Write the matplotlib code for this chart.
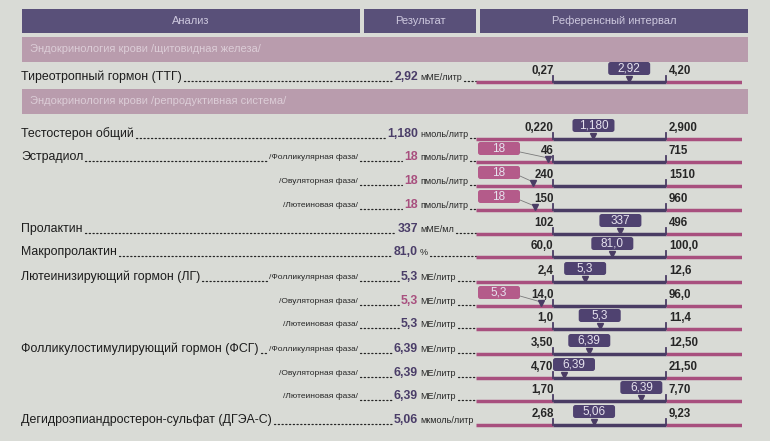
import matplotlib.pyplot as plt
from matplotlib.patches import Rectangle, FancyBboxPatch

plt.rcParams['font.family'] = ['Liberation Sans', 'DejaVu Sans']

# Data
header_labels = ["Анализ", "Результат", "Референсный интервал"]
section_titles = ["Эндокринология крови /щитовидная железа/",
                  "Эндокринология крови /репродуктивная система/"]

FOL, OV, LUT = "/Фолликулярная фаза/", "/Овуляторная фаза/", "/Лютеиновая фаза/"
analyte_names = ["Тиреотропный гормон (ТТГ)", "Тестостерон общий", "Эстрадиол", "", "",
                 "Пролактин", "Макропролактин", "Лютеинизирующий гормон (ЛГ)", "", "",
                 "Фолликулостимулирующий гормон (ФСГ)", "", "",
                 "Дегидроэпиандростерон-сульфат (ДГЭА-С)"]
phases = ["", "", FOL, OV, LUT, "", "", FOL, OV, LUT, FOL, OV, LUT, ""]
results = [2.92, 1.180, 18, 18, 18, 337, 81.0, 5.3, 5.3, 5.3, 6.39, 6.39, 6.39, 5.06]
result_labels = ["2,92", "1,180", "18", "18", "18", "337", "81,0", "5,3", "5,3", "5,3",
                 "6,39", "6,39", "6,39", "5,06"]
units = ["мМЕ/литр", "нмоль/литр", "пмоль/литр", "пмоль/литр", "пмоль/литр", "мМЕ/мл", "%",
         "МЕ/литр", "МЕ/литр", "МЕ/литр", "МЕ/литр", "МЕ/литр", "МЕ/литр", "мкмоль/литр"]
ref_low = [0.27, 0.220, 46, 240, 150, 102, 60.0, 2.4, 14.0, 1.0, 3.50, 4.70, 1.70, 2.68]
ref_high = [4.20, 2.900, 715, 1510, 960, 496, 100.0, 12.6, 96.0, 11.4, 12.50, 21.50, 7.70, 9.23]
low_labels = ["0,27", "0,220", "46", "240", "150", "102", "60,0", "2,4", "14,0", "1,0",
              "3,50", "4,70", "1,70", "2,68"]
high_labels = ["4,20", "2,900", "715", "1510", "960", "496", "100,0", "12,6", "96,0", "11,4",
               "12,50", "21,50", "7,70", "9,23"]

# layout (pixels)
row_y = [77, 134, 157, 181, 205, 229, 252, 277, 301, 324, 349, 373, 396, 420]
BAR_X0, BAR_X1 = 476, 742
LOW_PX, HIGH_PX = 553, 666

BG = "#d9dbd6"
HEAD = "#595079"
BAND = "#b99cad"
PINK = "#a84f7e"
DARK = "#4a3c64"
BOX_DARK = "#4f4270"
BOX_PINK = "#b45b8a"
TXT = "#262626"

fig = plt.figure(figsize=(7.7, 4.41), dpi=100)
fig.patch.set_facecolor(BG)
ax = fig.add_axes([0, 0, 1, 1])
ax.set_xlim(0, 770)
ax.set_ylim(441, 0)
ax.axis('off')

# header
head_boxes = [(22, 360), (364, 476), (480, 748)]
for (x0, x1), lab in zip(head_boxes, header_labels):
    ax.add_patch(Rectangle((x0, 9), x1 - x0, 24, color=HEAD, lw=0))
    ax.text((x0 + x1) / 2, 21, lab, ha='center', va='center', fontsize=8, color="#cdc8de")

# section bands
for yb, title in zip([37, 89], section_titles):
    ax.add_patch(Rectangle((22, yb), 726, 25, color=BAND, lw=0))
    ax.text(30, yb + 12.5, title, ha='left', va='center', fontsize=8, color="#dccdd7")

renderer = fig.canvas.get_renderer()


def extent(t):
    bb = t.get_window_extent(renderer)
    return bb.x0, bb.x1


def dots(x0, x1, y):
    if x1 - x0 > 2:
        ax.plot([x0, x1], [y, y], color=TXT, lw=0.9, linestyle=(0, (1, 2.0)),
                dash_capstyle='round')


for i, y in enumerate(row_y):
    low, high, v = ref_low[i], ref_high[i], results[i]
    below = v < low
    base = y + 3.5

    # left part: name, phase, value, unit
    t_val = ax.text(418, y, result_labels[i], ha='right', va='center', fontsize=8.8,
                    fontweight='bold', color=PINK if below else "#4a3d68")
    t_unit = ax.text(420, y + 0.5, units[i], ha='left', va='center', fontsize=6.5, color=TXT)
    v0, _ = extent(t_val)
    _, u1 = extent(t_unit)
    dots(u1 + 2, BAR_X0, base)

    left_end = v0 - 2
    if phases[i]:
        t_ph = ax.text(358, y + 0.5, phases[i], ha='right', va='center', fontsize=6,
                       color=TXT)
        p0, _ = extent(t_ph)
        dots(360, left_end, base)
        left_end = p0 - 2
    if analyte_names[i]:
        t_nm = ax.text(21, y, analyte_names[i], ha='left', va='center', fontsize=8.9,
                       color="#1c1c1c")
        _, n1 = extent(t_nm)
        dots(n1 + 2, left_end, base)

    # reference interval scale for this row
    by = y + 5
    span = (high - low) / (HIGH_PX - LOW_PX)
    ax_r = fig.add_axes([BAR_X0 / 770, (441 - (by + 4)) / 441,
                         (BAR_X1 - BAR_X0) / 770, 30 / 441])
    ax_r.set_xlim(low - (LOW_PX - BAR_X0) * span, high + (BAR_X1 - HIGH_PX) * span)
    ax_r.set_ylim(by + 4, by - 26)
    ax_r.axis('off')
    xmin, xmax = ax_r.get_xlim()
    ax_r.plot([xmin, low], [by, by], color=PINK, lw=2.5, solid_capstyle='butt')
    ax_r.plot([low, high], [by, by], color=DARK, lw=2.5, solid_capstyle='butt')
    ax_r.plot([high, xmax], [by, by], color=PINK, lw=2.5, solid_capstyle='butt')
    for lim in (low, high):
        ax_r.plot([lim, lim], [by, by - 6], color=DARK, lw=1.3)
    ax_r.annotate(low_labels[i], (low, by - 5), xytext=(0.5, 0), textcoords='offset points',
                  ha='right', va='bottom', fontsize=8.3, fontweight='bold', color=TXT)
    ax_r.annotate(high_labels[i], (high, by - 5), xytext=(2, 0), textcoords='offset points',
                  ha='left', va='bottom', fontsize=8.3, fontweight='bold', color=TXT)
    ax_r.plot([v], [by - 3], marker='v', markersize=4.5, color=DARK, lw=0)

    # result marker box
    vx = ax.transData.inverted().transform(ax_r.transData.transform((v, by)))[0]
    lx = ax.transData.inverted().transform(ax_r.transData.transform((low, by)))[0]
    hx = ax.transData.inverted().transform(ax_r.transData.transform((high, by)))[0]
    bw, bh = 42, 13
    if below:
        bx = BAR_X0 + 2
        ax.plot([bx + bw, vx], [by - 10, by - 4], color="#7a7a7a", lw=0.6)
        col = BOX_PINK
    else:
        bx = min(max(vx - bw / 2, lx), hx - bw)
        col = BOX_DARK
    ax.add_patch(FancyBboxPatch((bx, by - 20), bw, bh,
                                boxstyle='round,pad=0,rounding_size=2.5',
                                facecolor=col, edgecolor='none'))
    ax.text(bx + bw / 2, by - 13.5, result_labels[i], ha='center', va='center',
            fontsize=8.5, color="#e6e2ee")

fig.savefig("out.png", dpi=100, facecolor=fig.get_facecolor())
